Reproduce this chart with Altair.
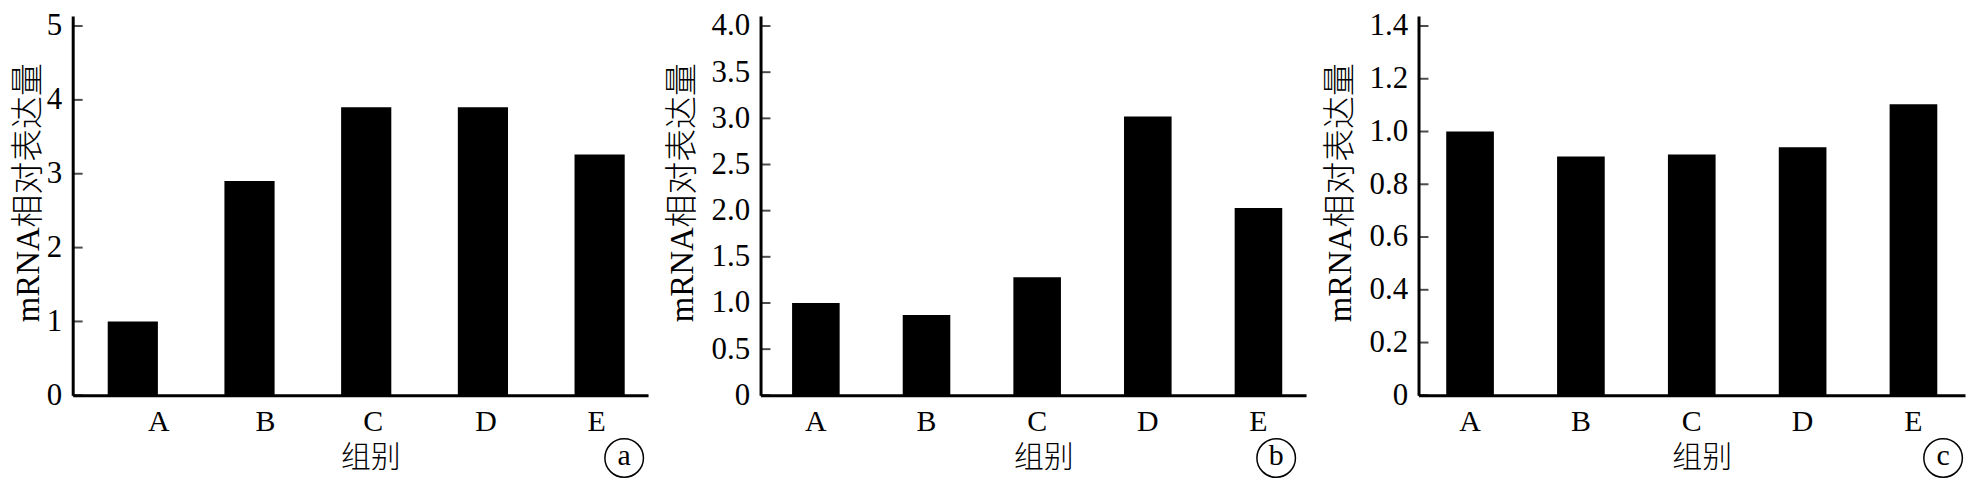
import altair as alt
import pandas as pd

groups = ["A", "B", "C", "D", "E"]
values_a = [1.0, 2.9, 3.9, 3.9, 3.26]
values_b = [1.0, 0.87, 1.28, 3.02, 2.03]
values_c = [1.0, 0.905, 0.913, 0.94, 1.103]
ticks_a = [0, 1, 2, 3, 4, 5]
ticks_b = [0, 0.5, 1.0, 1.5, 2.0, 2.5, 3.0, 3.5, 4.0]
ticks_c = [0, 0.2, 0.4, 0.6, 0.8, 1.0, 1.2, 1.4]
domain_max = [5.135, 4.108, 1.4377]
panel_letters = ["a", "b", "c"]
y_title = "mRNA相对表达量"
x_title = "组别"

FONT = "Liberation Serif, Noto Sans CJK SC, serif"
H = 381

# horizontal nudges of the category labels in panel a (the labels sit off-centre there)
label_shift_a = [26, 16, 7, 3, -3]


def panel(vals, ticks, dmax, letter, width, align, circle_dx, label_expr, title_pad, shifts=None):
    df = pd.DataFrame({"group": groups, "value": vals})
    tdf = pd.DataFrame({"t": ticks})
    ldf = pd.DataFrame({"letter": [letter]})
    yscale = alt.Scale(domain=[0, dmax], nice=False, zero=True)
    yaxis = alt.Axis(
        values=ticks,
        ticks=False,
        tickSize=0,
        grid=False,
        labelExpr=label_expr,
        labelPadding=11,
        labelFont=FONT,
        labelFontSize=31,
        labelColor="black",
        domainColor="black",
        domainWidth=3,
        title=y_title,
        titleFont=FONT,
        titleFontSize=33,
        titleFontWeight=300,
        titleColor="black",
        titlePadding=title_pad,
        titleY=177,
    )
    xaxis_kw = dict(
        title=x_title,
        labelAngle=0,
        ticks=False,
        tickSize=0,
        labelPadding=26,
        labelBaseline="middle",
        domainColor="black",
        domainWidth=3,
        labelFont=FONT,
        labelFontSize=30,
        labelColor="black",
        titleFont=FONT,
        titleFontSize=30,
        titleFontWeight=300,
        titleColor="black",
        titleX=width / 2 + 10,
        titleY=63,
        titleBaseline="middle",
        grid=False,
    )
    if shifts is not None:
        xaxis_kw["labelOffset"] = {
            "condition": [
                {"test": f"datum.value === '{g}'", "value": s} for g, s in zip(groups, shifts)
            ],
            "value": 0,
        }
    x = alt.X(
        "group:N",
        sort=groups,
        scale=alt.Scale(paddingInner=0.57, paddingOuter=0.25, align=align),
        axis=alt.Axis(**xaxis_kw),
    )
    bars = alt.Chart(df).mark_bar(color="black").encode(
        x=x, y=alt.Y("value:Q", scale=yscale, axis=yaxis, title=y_title)
    )
    tick_marks = (
        alt.Chart(tdf)
        .mark_tick(color="black", thickness=2, size=10, orient="horizontal")
        .encode(y=alt.Y("t:Q", scale=yscale, axis=yaxis, title=y_title), x=alt.value(5))
    )
    circ = (
        alt.Chart(ldf)
        .mark_point(shape="circle", filled=False, size=1500, color="black", strokeWidth=1.5, opacity=1)
        .encode(x=alt.value(width - circle_dx), y=alt.value(H + 63))
    )
    txt = (
        alt.Chart(ldf)
        .mark_text(font=FONT, fontSize=30, baseline="middle", align="center", color="black")
        .encode(text="letter:N", x=alt.value(width - circle_dx), y=alt.value(H + 61))
    )
    return alt.layer(bars, tick_marks, circ, txt).properties(width=width, height=H)


fmt_int = "format(datum.value, 'd')"
fmt_one = "datum.value == 0 ? '0' : format(datum.value, '.1f')"

pa = panel(values_a, ticks_a, domain_max[0], panel_letters[0], 578, 0.6, 24, fmt_int, 1, label_shift_a)
pb = panel(values_b, ticks_b, domain_max[1], panel_letters[1], 548, 0.57, 30, fmt_one, 12)
pc = panel(values_c, ticks_c, domain_max[2], panel_letters[2], 549, 0.5, 22, fmt_one, 12)

chart = (
    alt.hconcat(pa, pb, pc, spacing=113, bounds="flush")
    .properties(padding={"left": 4, "top": 0, "right": 0, "bottom": 0}, background="white")
    .configure_view(stroke=None)
)

chart.save("out.html", embed_options={"renderer": "svg", "actions": False})
